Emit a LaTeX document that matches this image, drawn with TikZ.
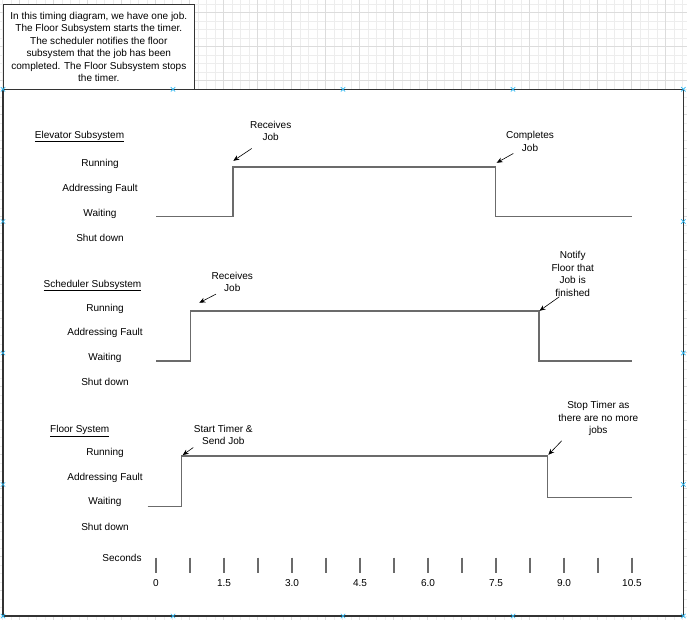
\documentclass[tikz,border=0pt]{standalone}
\usepackage{fontspec}
\setmainfont{Liberation Sans}
\usetikzlibrary{arrows.meta}
\definecolor{minorgrid}{HTML}{EDEDED}
\definecolor{majorgrid}{HTML}{DCDCDC}
\definecolor{signalgray}{HTML}{6B6B6B}
\definecolor{markblue}{HTML}{29B6F2}
\begin{document}
\begin{tikzpicture}[x=1pt,y=-1pt,
  every node/.style={inner sep=0pt,align=center,yshift=-0.8pt,font=\fontsize{10bp}{12.5bp}\selectfont},
  signal/.style={draw=signalgray,line width=1.5pt,line join=miter},
  tick/.style={draw=signalgray,line width=1.3pt},
  pointer/.style={-{Stealth[length=6pt,width=5pt]},line width=0.6pt},
  marker/.style={draw=markblue,line width=0.7pt}]
\useasboundingbox (0,0) rectangle (687,620);
% editor grid
\foreach \i in {0,...,80} \draw[minorgrid,line width=0.6pt] ({2.3+8.5*\i},0) -- ++(0,620);
\foreach \i in {0,...,72} \draw[minorgrid,line width=0.6pt] (0,{4.2+8.5*\i}) -- ++(687,0);
\foreach \i in {0,...,19} \draw[majorgrid,line width=0.7pt] ({19.3+34*\i},0) -- ++(0,620);
\foreach \i in {0,...,17} \draw[majorgrid,line width=0.7pt] (0,{12.7+34*\i}) -- ++(687,0);
% frame and note
\draw[fill=white,draw=black!80,line width=1.2pt] (3,89.3) rectangle (683.3,616);
\node[draw=black!80,fill=white,line width=1.2pt,minimum width=191pt,minimum height=85pt,yshift=0.8pt] (note) at (98.8,46.8)
  {In this timing diagram, we have one job.\\The Floor Subsystem starts the timer.\\The scheduler notifies the floor\\subsystem that the job has been\\completed. The Floor Subsystem stops\\the timer.};
% elevator
\node (elev) at (79.5,135.7) {\underline{Elevator Subsystem}};
\node (erun) at (100,162.7) {Running};
\node (efault) at (100,187.7) {Addressing Fault};
\node (ewait) at (100,212.7) {Waiting};
\node (eshut) at (100,236.7) {Shut down};
\coordinate (eup) at (232.8,166);
\coordinate (edown) at (495.7,166);
\draw[signal] (156,216.7) -| (eup) -- (edown) |- (632.3,216.7);
\node (erecv) at (270.7,130.2) {Receives\\Job};
\node (edone) at (530,140.7) {Completes\\Job};
\coordinate (erecvt) at (251.7,147.7);
\coordinate (edonet) at (513.3,152.7);
\draw[pointer] (erecvt) -- ([shift={(0.5,-6)}]eup);
\draw[pointer] (edonet) -- ([shift={(1,-4)}]edown);
% scheduler
\node (sched) at (92.5,284.7) {\underline{Scheduler Subsystem}};
\node (srun) at (105,307.7) {Running};
\node (sfault) at (105,332.3) {Addressing Fault};
\node (swait) at (105,356.7) {Waiting};
\node (sshut) at (105,380.7) {Shut down};
\coordinate (sup) at (190.3,310);
\coordinate (sdown) at (539,310);
\draw[signal] (156,361) -| (sup) -- (sdown) |- (632.3,361);
\node (srecv) at (232.3,281) {Receives\\Job};
\node (snotify) at (572.7,273.3) {Notify\\Floor that\\Job is\\finished};
\coordinate (srecvt) at (216,293.3);
\coordinate (snotifyt) at (559.3,296);
\draw[pointer] (srecvt) -- ([shift={(9,-8)}]sup);
\draw[pointer] (snotifyt) -- ([shift={(0.5,0)}]sdown);
% floor
\node (floor) at (79.7,430) {\underline{Floor System}};
\node (frun) at (105,451.7) {Running};
\node (ffault) at (105,476.7) {Addressing Fault};
\node (fwait) at (105,501.3) {Waiting};
\node (fshut) at (105,525.7) {Shut down};
\coordinate (fup) at (181.7,455);
\coordinate (fdown) at (547.3,455);
\draw[signal] (147.7,506.3) -| (fup) -- (fdown) |- (632.3,497.3);
\node (fstart) at (223.3,434.2) {Start Timer \&\\Send Job};
\node (fstop) at (598.3,417.8) {Stop Timer as\\there are no more\\jobs};
\coordinate (fstartt) at (193.3,446.7);
\coordinate (fstopt) at (561.7,440);
\draw[pointer] (fstartt) -- ([shift={(1,-0.7)}]fup);
\draw[pointer] (fstopt) -- ([shift={(1,-1)}]fdown);
% seconds axis
\node (secs) at (122,557) {Seconds};
\foreach \k in {0,...,14} \draw[tick] ({156+34*\k},557.5) -- ++(0,15.5);
\foreach \k/\t in {0/0,2/1.5,4/3.0,6/4.5,8/6.0,10/7.5,12/9.0,14/10.5}
  \node (t\k) at ({156+34*\k},582.7) {\t};
% editor handles
\foreach \p in {(3,89.3),(173,89.3),(343,89.3),(513,89.3),(683.3,89.3),
  (3,221.5),(3,353),(3,484.5),(683.3,221.5),(683.3,353),(683.3,484.5),
  (3,616),(173,616),(343,616),(513,616),(683.3,616)}
  \draw[marker] \p +(-2.2,-2.2) -- +(2.2,2.2) +(-2.2,2.2) -- +(2.2,-2.2);
\end{tikzpicture}
\end{document}
